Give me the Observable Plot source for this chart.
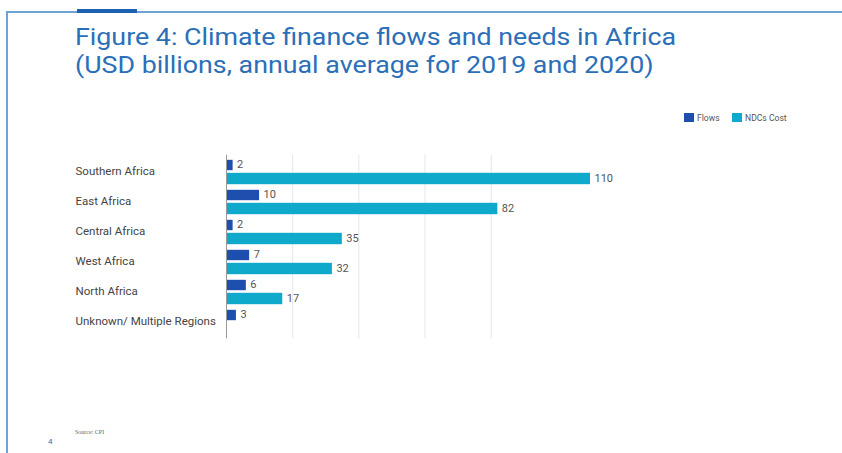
<!DOCTYPE html>
<html>
<head>
<meta charset="utf-8">
<script src="https://cdn.jsdelivr.net/npm/d3@7"></script>
<script src="https://cdn.jsdelivr.net/npm/@observablehq/plot@0.6"></script>
<style>
  html, body { margin: 0; padding: 0; background: #fff; }
  body { width: 842px; height: 453px; position: relative; overflow: hidden; font-family: Roboto, sans-serif; }
  .frame-top { position: absolute; left: 7px; top: 11px; width: 835px; height: 1.5px; background: #6fa3d6; }
  .frame-left { position: absolute; left: 6px; top: 11px; width: 1.5px; height: 442px; background: #6fa3d6; }
  .tab { position: absolute; left: 77px; top: 9px; width: 60px; height: 4px; background: #1d5fb0; }
  #title { position: absolute; left: 75px; top: 23px; white-space: nowrap; color: #2b6fb8; font-size: 23.8px; line-height: 28px; transform-origin: 0 0; }
  #chart { position: absolute; left: 0; top: 0; }
  .lg { position: absolute; font-size: 8.6px; color: #555; white-space: nowrap; line-height: 10px; }
  .sw { position: absolute; width: 10px; height: 9px; }
  .source { position: absolute; left: 75px; top: 429px; font-size: 6px; color: #666; font-family: "Liberation Serif", serif; }
  .page { position: absolute; left: 48px; top: 437px; font-size: 8px; color: #2b72bd; }
</style>
</head>
<body>
<div class="frame-top"></div>
<div class="frame-left"></div>
<div class="tab"></div>
<div id="chart"></div>
<div id="title"><span id="l1">Figure 4: Climate finance flows and needs in Africa</span><br>(USD billions, annual average for 2019 and 2020)</div>
<span class="sw" style="left:684px; top:113px; background:#1f4fae"></span>
<span class="lg" style="left:697px; top:113px">Flows</span>
<span class="sw" style="left:732px; top:113px; background:#0fa9cc"></span>
<span class="lg" style="left:745px; top:113px">NDCs Cost</span>
<div class="source">Source: CPI</div>
<div class="page">4</div>
<script>
const regions = ["Southern Africa", "East Africa", "Central Africa", "West Africa", "North Africa", "Unknown/ Multiple Regions"];
const flows = [2, 10, 2, 7, 6, 3];
const ndcCost = [110, 82, 35, 32, 17, null];
const gridTicks = [20, 40, 60, 80];

const flowsData = regions.map((r, i) => ({region: r, value: flows[i]})).filter(d => d.value != null);
const ndcData = regions.map((r, i) => ({region: r, value: ndcCost[i]})).filter(d => d.value != null);

const FLOWS_COLOR = "#1f4fae";
const NDC_COLOR = "#0fa9cc";

const chart = Plot.plot({
  width: 842,
  height: 453,
  marginLeft: 226,
  marginRight: 252,
  marginTop: 154.7,
  marginBottom: 114.7,
  style: {fontFamily: "Roboto, sans-serif", fontSize: "11px", background: "transparent"},
  x: {domain: [0, 110], axis: null},
  y: {domain: regions, padding: 0, label: null},
  marks: [
    Plot.ruleX(gridTicks, {stroke: "#e6e6e6", strokeWidth: 1}),
    Plot.barX(flowsData, {x: "value", y: "region", fill: FLOWS_COLOR, insetTop: 2.8, insetBottom: 16.8}),
    Plot.barX(ndcData, {x: "value", y: "region", fill: NDC_COLOR, insetTop: 15.8, insetBottom: 2.8}),
    Plot.text(flowsData, {x: "value", y: "region", text: d => String(d.value), dx: 4, dy: -8, textAnchor: "start", fill: "#555", fontSize: 11}),
    Plot.text(ndcData, {x: "value", y: "region", text: d => String(d.value), dx: 4, dy: 6, textAnchor: "start", fill: "#555", fontSize: 11}),
    Plot.ruleX([0], {stroke: "#9a9a9a", strokeWidth: 1}),
    Plot.axisY({tickSize: 0, tickPadding: 0, dx: -151, dy: -1.5, textAnchor: "start", fill: "#444", fontSize: 11.5, label: null})
  ]
});
document.getElementById("chart").appendChild(chart);

// fit the title to the reference width of its first line
const l1 = document.getElementById("l1");
const w = l1.getBoundingClientRect().width;
if (w > 0) document.getElementById("title").style.transform = `scaleX(${601 / w})`;
</script>
</body>
</html>
